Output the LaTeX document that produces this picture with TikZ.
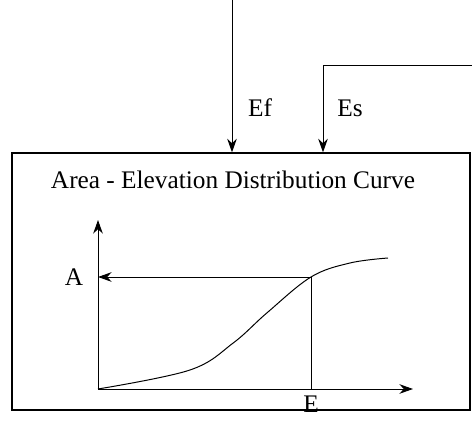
\documentclass[tikz,border=0pt]{standalone}
\usepackage{fontspec}
\setmainfont{Liberation Serif}
\usetikzlibrary{arrows.meta,positioning,calc}

\begin{document}
\begin{tikzpicture}[
  every node/.style={font=\fontsize{18}{21}\selectfont},
  flow/.style={-{Stealth[length=3.4mm,width=2.4mm]}, line width=0.7pt},
  frame/.style={draw, line width=0.9pt, minimum width=11.45cm,
                minimum height=6.425cm, inner sep=0pt}
]
\useasboundingbox (0,0) rectangle (11.8,10.625);

% Curve panel
\node[frame] (panel) at (6.025,3.5875) {};
\node (title) at (5.825,6.125) {Area - Elevation Distribution Curve};

% Incoming elevations
\coordinate (eftop) at (5.8,10.625);
\coordinate (esend) at (11.8,9.0);
\coordinate (escorner) at (8.075,9.0);
\draw[flow] (eftop) -- (eftop |- panel.north);
\draw[flow] (esend) -- (escorner) -- (escorner |- panel.north);
\node (ef) at (6.5,7.925) {Ef};
\node (es) at (8.75,7.925) {Es};

% Axes
\coordinate (orig) at (2.45,0.9);
\coordinate (ytop) at (2.45,5.125);
\coordinate (xend) at (10.325,0.9);
\draw[flow] (orig) -- (ytop);
\draw[flow] (orig) -- (xend);

% Distribution curve
\draw[line width=0.7pt] plot[smooth, tension=0.6] coordinates {
  (2.45,0.9) (4.75,1.375) (5.83,2.05) (6.67,2.8)
  (7.775,3.7) (8.75,4.05) (9.7,4.175)};

% Reading E -> A
\coordinate (pick) at (7.775,3.7);
\coordinate (abase) at (2.45,3.7);
\draw[line width=0.7pt] (pick) -- (pick |- orig);
\draw[flow] (pick) -- (abase);
\node (alab) at (1.85,3.7) {A};
\node[anchor=base] (elab) at (7.775,0.3) {E};
\end{tikzpicture}
\end{document}
